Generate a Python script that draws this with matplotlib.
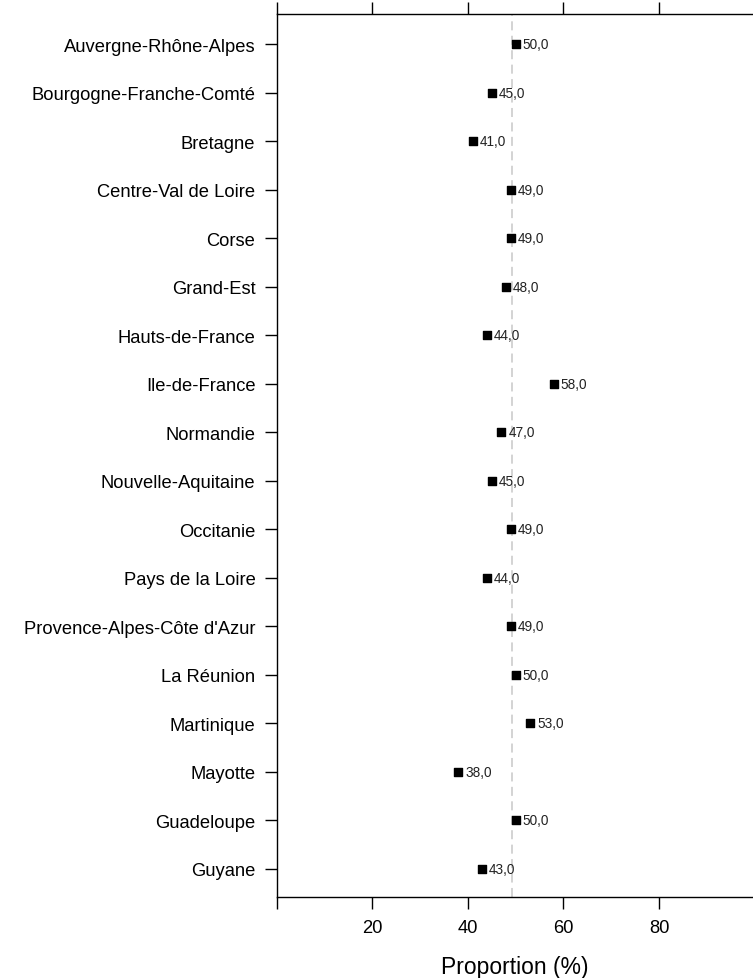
import numpy as np
import matplotlib.pyplot as plt

plt.rcParams['font.family'] = ['Liberation Sans', 'DejaVu Sans']

regions = ["Auvergne-Rhône-Alpes", "Bourgogne-Franche-Comté", "Bretagne",
           "Centre-Val de Loire", "Corse", "Grand-Est", "Hauts-de-France",
           "Ile-de-France", "Normandie", "Nouvelle-Aquitaine", "Occitanie",
           "Pays de la Loire", "Provence-Alpes-Côte d'Azur", "La Réunion",
           "Martinique", "Mayotte", "Guadeloupe", "Guyane"]
values = [50.0, 45.0, 41.0, 49.0, 49.0, 48.0, 44.0, 58.0, 47.0,
          45.0, 49.0, 44.0, 49.0, 50.0, 53.0, 38.0, 50.0, 43.0]
reference = 49.3
xticks = [0, 20, 40, 60, 80]
xticklabels = ["", "20", "40", "60", "80"]

fig = plt.figure(figsize=(7.53, 9.79), dpi=100)
ax = fig.add_axes([277/753, 1 - 898/979, 1 - 277/753, (898 - 15)/979])

y = np.arange(len(regions))
ax.axvline(reference, color='#d0d0d0', lw=1.3, ls=(0, (5, 3)), zorder=1)
ax.scatter(values, y, marker='s', s=40, color='black', zorder=3)
for v, yi in zip(values, y):
    ax.annotate(f"{v:.1f}".replace('.', ','), (v, yi), xytext=(5, 0),
                textcoords='offset points', va='center', ha='left',
                fontsize=9.8, color='#222222')

ax.set_xlim(0, 99.7)
ax.set_ylim(len(regions) - 0.42, -0.62)
ax.set_yticks(y)
ax.set_yticklabels(regions, fontsize=13.2)
ax.set_xticks(xticks)
ax.set_xticklabels(xticklabels, fontsize=13.2)
ax.tick_params(axis='x', length=8.5, width=1, top=True, direction='out', pad=7)
ax.tick_params(axis='y', length=8.5, width=1, direction='out', pad=7)
ax.spines['right'].set_visible(False)
for s in ['left', 'top', 'bottom']:
    ax.spines[s].set_linewidth(1)
ax.set_xlabel("Proportion (%)", fontsize=16.5, labelpad=14)

fig.savefig("out.png", dpi=100)
